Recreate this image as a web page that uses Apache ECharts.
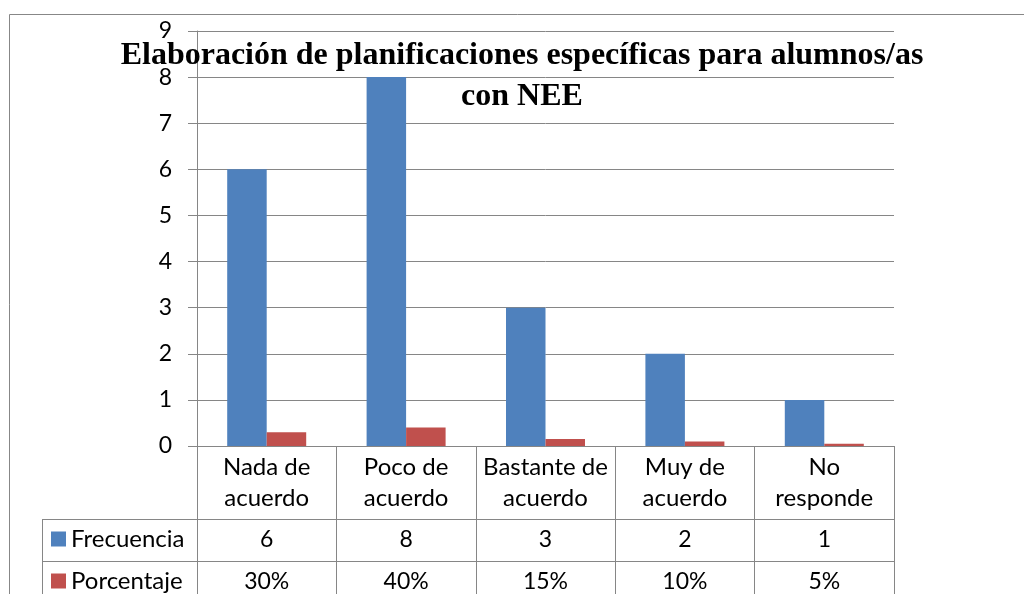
<!DOCTYPE html>
<html>
<head>
<meta charset="utf-8">
<script src="https://cdn.jsdelivr.net/npm/echarts@6/dist/echarts.min.js"></script>
<style>html,body{margin:0;padding:0;background:#fff;}#c{width:1024px;height:594px;}</style>
</head>
<body>
<div id="c"></div>
<script>
const titleLines = ['Elaboración de planificaciones específicas para alumnos/as', 'con NEE'];
const categories = ['Nada de\nacuerdo', 'Poco de\nacuerdo', 'Bastante de\nacuerdo', 'Muy de\nacuerdo', 'No\nresponde'];
const seriesNames = ['Frecuencia', 'Porcentaje'];
const frecuencia = [6, 8, 3, 2, 1];
const porcentaje = [0.30, 0.40, 0.15, 0.10, 0.05];
const yTicks = { min: 0, max: 9, interval: 1 };

const GRID = '#868686';
const FONT = 'Lato';
const FS = 23;
const chart = echarts.init(document.getElementById('c'), null, { renderer: 'canvas' });

const pct = v => Math.round(v * 100) + '%';

const tableAxis = (data, offset) => ({
  type: 'category', gridIndex: 0, position: 'bottom', offset: offset,
  data: data,
  axisLine: { show: false }, axisTick: { show: false }, splitLine: { show: false },
  axisLabel: { interval: 0, margin: 0, fontFamily: FONT, fontSize: FS, lineHeight: 22, color: '#000' }
});

const legendRow = (name, top) => ({
  orient: 'horizontal', left: 51, top: top, padding: 0,
  itemWidth: 15, itemHeight: 15, icon: 'rect',
  data: [name],
  textStyle: { fontFamily: FONT, fontSize: 24, lineHeight: 24, color: '#000' }
});

chart.setOption({
  animation: false,
  backgroundColor: '#fff',
  grid: { left: 197, right: 130, top: 31, bottom: 148, containLabel: false },
  legend: [legendRow(seriesNames[0], 527), legendRow(seriesNames[1], 569)],
  xAxis: [
    {
      type: 'category', data: categories,
      axisLine: { show: true, lineStyle: { color: GRID, width: 1 } },
      axisTick: { show: true, interval: 0, alignWithLabel: false, length: 150, lineStyle: { color: GRID, width: 1 } },
      axisLabel: { interval: 0, margin: 6, fontFamily: FONT, fontSize: 24, lineHeight: 31, color: '#000' }
    },
    tableAxis(frecuencia.map(String), 83),
    tableAxis(porcentaje.map(pct), 125)
  ],
  yAxis: {
    type: 'value', min: yTicks.min, max: yTicks.max, interval: yTicks.interval,
    axisLine: { show: true, lineStyle: { color: GRID, width: 1 } },
    axisTick: { show: true, length: 9, lineStyle: { color: GRID, width: 1 } },
    splitLine: { show: true, lineStyle: { color: GRID, width: 1 } },
    axisLabel: { margin: 25, fontFamily: FONT, fontSize: FS, color: '#000' }
  },
  series: [
    { name: seriesNames[0], type: 'bar', xAxisIndex: 0, data: frecuencia, barWidth: 39.5, barGap: '0%',
      itemStyle: { color: '#4F81BD' } },
    { name: seriesNames[1], type: 'bar', xAxisIndex: 0, data: porcentaje, barWidth: 39.5, barGap: '0%',
      itemStyle: { color: '#C0504D' } }
  ],
  graphic: [
    { type: 'polyline', silent: true, shape: { points: [[9.5, 600], [9.5, 14.5], [1030, 14.5]] },
      style: { stroke: '#878787', lineWidth: 1, fill: null } },
    { type: 'line', silent: true, shape: { x1: 42, y1: 519.5, x2: 894, y2: 519.5 }, style: { stroke: GRID, lineWidth: 1 } },
    { type: 'line', silent: true, shape: { x1: 42, y1: 561.5, x2: 894, y2: 561.5 }, style: { stroke: GRID, lineWidth: 1 } },
    { type: 'line', silent: true, shape: { x1: 42.5, y1: 519, x2: 42.5, y2: 600 }, style: { stroke: GRID, lineWidth: 1 } },
    { type: 'text', silent: true, x: 522, y: 35, z: 10,
      style: { text: titleLines.join('\n'), textAlign: 'center', textVerticalAlign: 'top',
        font: 'bold 32px "Liberation Serif"', lineHeight: 41, fill: '#000' } }
  ]
});
</script>
</body>
</html>
